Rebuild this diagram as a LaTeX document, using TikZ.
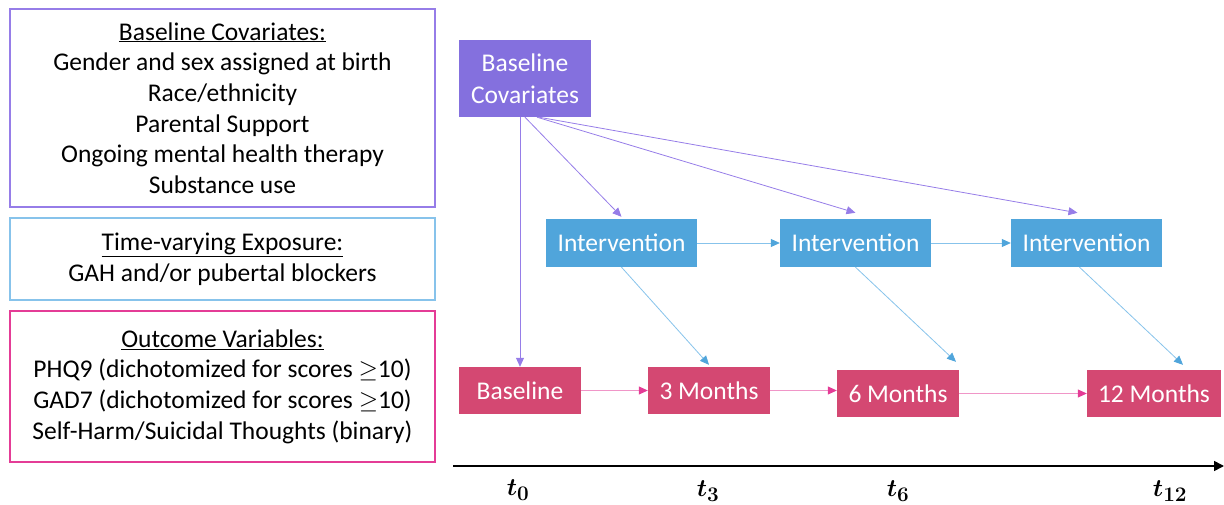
\documentclass[tikz,border=0pt]{standalone}
\usepackage{fontspec}
\setmainfont{Carlito}
\usetikzlibrary{arrows.meta}

\definecolor{covfill}{RGB}{132,112,222}
\definecolor{covline}{RGB}{150,125,232}
\definecolor{intfill}{RGB}{80,165,219}
\definecolor{intline}{RGB}{135,195,235}
\definecolor{outfill}{RGB}{212,72,114}
\definecolor{outline}{RGB}{228,60,150}
\definecolor{outarrow}{RGB}{240,150,200}

\begin{document}
\begin{tikzpicture}[x=1pt,y=-1pt]

\tikzset{infobox/.style = {draw,line width=1.4pt,minimum width=425pt,inner sep=0pt,align=center,font=\fontsize{25.5}{30.7}\selectfont}}
\tikzset{stage/.style = {inner sep=0pt,text=white,align=center,font=\fontsize{25.5}{32}\selectfont}}
\tikzset{covarrow/.style = {draw=covline,line width=0.8pt,-{Triangle[length=9pt,width=8pt]}}}
\tikzset{intarrow/.style = {draw=intline,line width=0.8pt,-{Triangle[length=9pt,width=8pt,color=intfill]}}}
\tikzset{outarrow/.style = {draw=outarrow,line width=0.8pt,-{Triangle[length=9pt,width=8pt,color=outline]}}}
\tikzset{tick/.style = {font=\fontsize{30}{34}\selectfont\boldmath}}

\useasboundingbox (0,0) rectangle (1224,505);

% legend boxes
\node[infobox,draw=covline,minimum height=198pt] (legcov) at (222.5,108)
  {\underline{Baseline Covariates:}\\Gender and sex assigned at birth\\Race/ethnicity\\Parental Support\\Ongoing mental health therapy\\Substance use};
\node[infobox,draw=intline,minimum height=82pt] (legint) at (222.5,259)
  {\underline{Time-varying Exposure:}\\GAH and/or pubertal blockers};
\node[infobox,draw=outline,minimum height=151pt] (legout) at (222.5,386.5)
  {\underline{Outcome Variables:}\\PHQ9 (dichotomized for scores $\geq$10)\\GAD7 (dichotomized for scores $\geq$10)\\Self-Harm/Suicidal Thoughts (binary)};

% diagram
\node[stage,fill=covfill,minimum width=132pt,minimum height=77pt] (cov) at (525,78.5) {Baseline\\Covariates};
\node[stage,fill=intfill,minimum width=151pt,minimum height=48pt] (int1) at (621.5,243) {Intervention};
\node[stage,fill=intfill,minimum width=151pt,minimum height=48pt] (int2) at (855.5,243) {Intervention};
\node[stage,fill=intfill,minimum width=151pt,minimum height=48pt] (int3) at (1086.5,243) {Intervention};
\node[stage,fill=outfill,minimum width=122pt,minimum height=47pt] (base) at (520,390.5) {Baseline};
\node[stage,fill=outfill,minimum width=122pt,minimum height=47pt] (m3) at (709,390.5) {3 Months};
\node[stage,fill=outfill,minimum width=122pt,minimum height=47pt] (m6) at (898,393.5) {6 Months};
\node[stage,fill=outfill,minimum width=134pt,minimum height=47pt] (m12) at (1154,393.5) {12 Months};

\draw[covarrow] ([xshift=-5pt]cov.south) -- (base.north);
\draw[covarrow] (cov.south) -- ([yshift=2pt]int1.north);
\draw[covarrow] ([xshift=12pt]cov.south) -- ([yshift=6pt]int2.north);
\draw[covarrow] ([xshift=14pt]cov.south) -- ([yshift=6pt,xshift=-9pt]int3.north);

\draw[intarrow] (int1.east) -- (int2.west);
\draw[intarrow] (int2.east) -- (int3.west);
\draw[intarrow] (int1.south) -- ([yshift=2pt]m3.north);
\draw[intarrow] (int2.south) -- ([xshift=58pt,yshift=8pt]m6.north);
\draw[intarrow] ([xshift=-7pt]int3.south) -- ([xshift=29pt,yshift=5pt]m12.north);

\draw[outarrow] (base.east) -- (m3.west);
\draw[outarrow] (m3.east) -- (m3.east -| m6.west);
\draw[outarrow] (m6.east) -- (m12.west);

% time axis
\coordinate (ax0) at (453,466);
\coordinate (ax1) at (1224,466);
\draw[line width=1.6pt,-{Triangle[length=10pt,width=10pt]}] (ax0) -- (ax1);
\node[tick] (t0) at (518,490) {$t_0$};
\node[tick] (t3) at (708,491) {$t_3$};
\node[tick] (t6) at (898,491) {$t_6$};
\node[tick] (t12) at (1170,491) {$t_{12}$};

\end{tikzpicture}
\end{document}
